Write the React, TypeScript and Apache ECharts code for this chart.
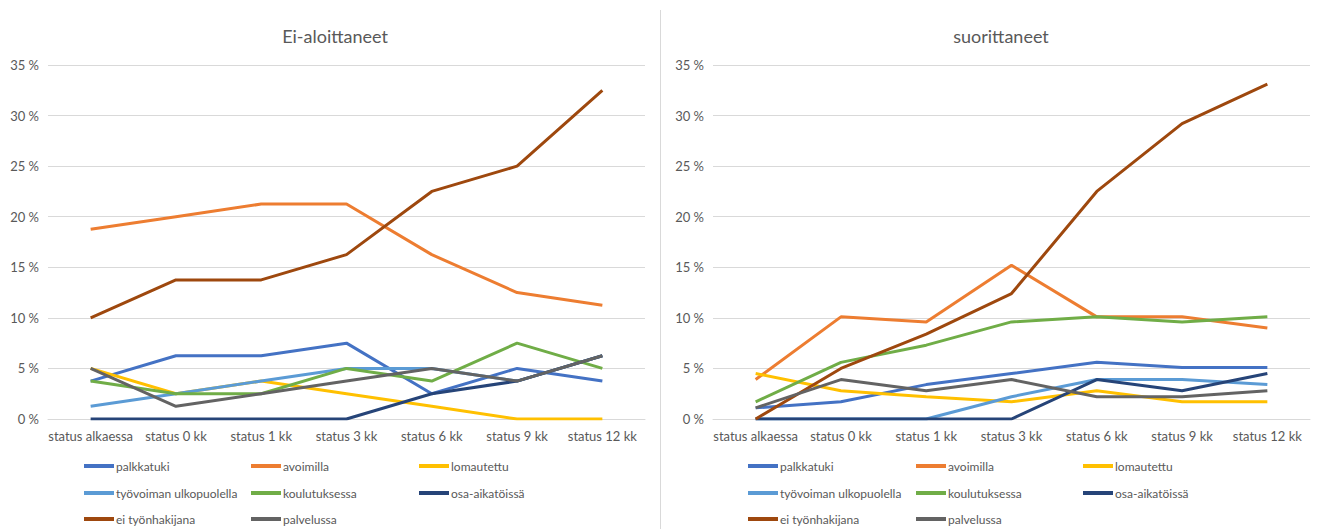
import React, { useEffect, useRef } from "react";
import * as echarts from "echarts";

const categories = ["status alkaessa", "status 0 kk", "status 1 kk", "status 3 kk", "status 6 kk", "status 9 kk", "status 12 kk"];
const seriesNames = ["palkkatuki", "avoimilla", "lomautettu", "työvoiman ulkopuolella", "koulutuksessa", "osa-aikatöissä", "ei työnhakijana", "palvelussa"];
const colors = ["#4472C4", "#ED7D31", "#FFC000", "#5B9BD5", "#70AD47", "#264478", "#9E480E", "#636363"];

// Ei-aloittaneet (%)
const leftPalkkatuki = [3.75, 6.25, 6.25, 7.5, 2.5, 5, 3.75];
const leftAvoimilla = [18.75, 20, 21.25, 21.25, 16.25, 12.5, 11.25];
const leftLomautettu = [5, 2.5, 3.75, 2.5, 1.25, 0, 0];
const leftTyovoiman = [1.25, 2.5, 3.75, 5, 5, 3.75, 6.25];
const leftKoulutuksessa = [3.75, 2.5, 2.5, 5, 3.75, 7.5, 5];
const leftOsaAika = [0, 0, 0, 0, 2.5, 3.75, 6.25];
const leftEiTyonhakijana = [10, 13.75, 13.75, 16.25, 22.5, 25, 32.5];
const leftPalvelussa = [5, 1.25, 2.5, 3.75, 5, 3.75, 6.25];

// suorittaneet (%)
const rightPalkkatuki = [1.1, 1.7, 3.4, 4.5, 5.6, 5.1, 5.1];
const rightAvoimilla = [3.9, 10.1, 9.6, 15.2, 10.1, 10.1, 9.0];
const rightLomautettu = [4.5, 2.8, 2.2, 1.7, 2.8, 1.7, 1.7];
const rightTyovoiman = [0, 0, 0, 2.2, 3.9, 3.9, 3.4];
const rightKoulutuksessa = [1.7, 5.6, 7.3, 9.6, 10.1, 9.6, 10.1];
const rightOsaAika = [0, 0, 0, 0, 3.9, 2.8, 4.5];
const rightEiTyonhakijana = [0, 5.0, 8.4, 12.4, 22.5, 29.2, 33.1];
const rightPalvelussa = [1.1, 3.9, 2.8, 3.9, 2.2, 2.2, 2.8];

const yTicks = [0, 5, 10, 15, 20, 25, 30, 35];

const leftData = [leftPalkkatuki, leftAvoimilla, leftLomautettu, leftTyovoiman, leftKoulutuksessa, leftOsaAika, leftEiTyonhakijana, leftPalvelussa];
const rightData = [rightPalkkatuki, rightAvoimilla, rightLomautettu, rightTyovoiman, rightKoulutuksessa, rightOsaAika, rightEiTyonhakijana, rightPalvelussa];

const FONT = "Lato, 'Open Sans', sans-serif";
const TEXT = "#595959";

export default function App() {
  const ref = useRef<HTMLDivElement>(null);
  useEffect(() => {
    if (!ref.current) return;
    const chart = echarts.init(ref.current, undefined, { renderer: "svg" });

    const makeX = (gridIndex: number) => ({
      type: "category",
      gridIndex,
      data: categories,
      boundaryGap: true,
      axisLine: { show: true, lineStyle: { color: "#d9d9d9" } },
      axisTick: { show: false },
      axisLabel: { interval: 0, color: TEXT, fontSize: 13, fontFamily: FONT, margin: 10 },
    });
    const makeY = (gridIndex: number) => ({
      type: "value",
      gridIndex,
      min: yTicks[0],
      max: yTicks[yTicks.length - 1],
      interval: 5,
      axisLine: { show: false },
      axisTick: { show: false },
      splitLine: { lineStyle: { color: "#d9d9d9", width: 1 } },
      axisLabel: { color: TEXT, fontSize: 13, fontFamily: FONT, formatter: "{value} %", margin: 9 },
    });

    const series: any[] = [];
    [leftData, rightData].forEach((dataset, gi) => {
      dataset.forEach((vals, i) => {
        series.push({
          type: "line",
          name: seriesNames[i],
          xAxisIndex: gi,
          yAxisIndex: gi,
          data: vals,
          symbol: "none",
          lineStyle: { width: 3, color: colors[i] },
          itemStyle: { color: colors[i] },
        });
      });
    });

    // legend layout: column per index, row per index
    const legendCol = [0, 1, 2, 0, 1, 2, 0, 1];
    const legendRow = [0, 0, 0, 1, 1, 1, 2, 2];
    const rowTops = [459, 486, 512];
    const leftCols = [84, 251, 419];
    const rightCols = [748, 916, 1083];
    const legends: any[] = [];
    [leftCols, rightCols].forEach((cols) => {
      seriesNames.forEach((name, k) => {
        legends.push({
          orient: "horizontal",
          left: cols[legendCol[k]],
          top: rowTops[legendRow[k]],
          padding: 0,
          itemWidth: 30,
          itemHeight: 4,
          icon: "rect",
          selectedMode: false,
          data: [name],
          textStyle: { color: TEXT, fontSize: 12, fontFamily: FONT, lineHeight: 14, padding: [0, 0, 0, -3] },
        });
      });
    });

    chart.setOption({
      animation: false,
      backgroundColor: "#ffffff",
      title: [
        { text: "Ei-aloittaneet", left: 330, top: 22, textAlign: "center", textStyle: { color: TEXT, fontSize: 18, fontWeight: "normal", fontFamily: FONT } },
        { text: "suorittaneet", left: 996, top: 22, textAlign: "center", textStyle: { color: TEXT, fontSize: 18, fontWeight: "normal", fontFamily: FONT } },
      ],
      grid: [
        { left: 48, right: 1317 - 645, top: 65, bottom: 529 - 419, containLabel: false },
        { left: 713, right: 7, top: 65, bottom: 529 - 419, containLabel: false },
      ],
      xAxis: [makeX(0), makeX(1)],
      yAxis: [makeY(0), makeY(1)],
      legend: legends,
      series,
      graphic: [
        { type: "line", shape: { x1: 660.5, y1: 10, x2: 660.5, y2: 529 }, style: { stroke: "#d9d9d9", lineWidth: 1 } },
      ],
    });
    return () => chart.dispose();
  }, []);
  return <div ref={ref} style={{ width: 1317, height: 529, position: "absolute", left: 0, top: 0 }} />;
}
